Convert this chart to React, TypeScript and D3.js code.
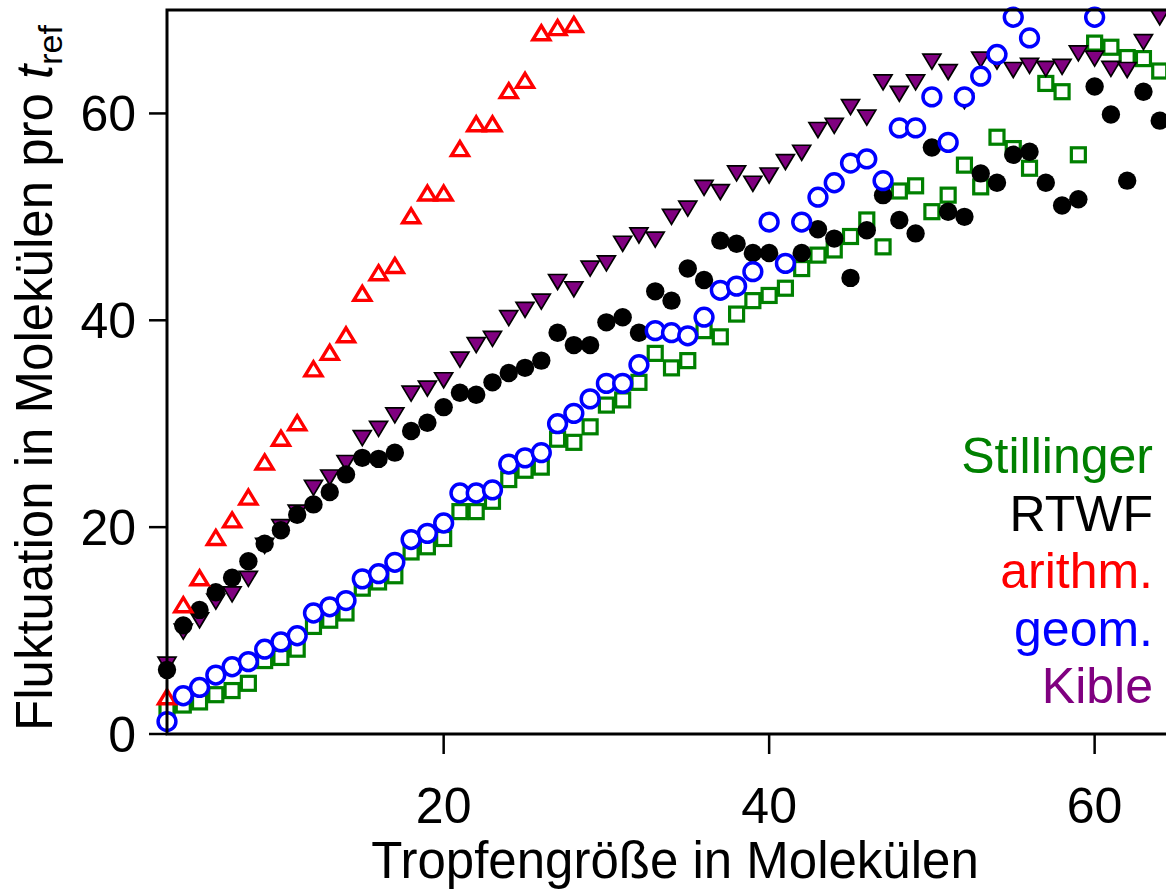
import React from "react";
import * as d3 from "d3";

const xStart = 3;
const stillinger = [2.3, 2.8, 3.1, 3.8, 4.2, 4.9, 7.1, 7.4, 8.2, 10.4, 11.0, 11.7, 14.1, 14.7, 15.3, 17.6, 18.1, 18.9, 21.5, 21.5, 22.5, 24.6, 25.5, 25.8, 28.5, 28.2, 29.7, 31.8, 32.3, 34.0, 36.8, 35.4, 36.1, 39.0, 38.4, 40.6, 41.9, 42.4, 43.1, 45.0, 46.3, 46.8, 48.1, 49.7, 47.1, 52.5, 53.0, 50.5, 52.1, 55.0, 52.9, 57.7, 56.6, 54.7, 62.9, 62.1, 56.0, 66.8, 66.4, 65.4, 65.3, 64.1];
const rtwf = [6.2, 10.5, 12.0, 13.7, 15.1, 16.7, 18.4, 19.7, 21.2, 22.2, 23.4, 25.1, 26.7, 26.6, 27.2, 29.3, 30.1, 31.6, 33.0, 32.8, 34.0, 34.9, 35.4, 36.1, 38.8, 37.6, 37.6, 39.8, 40.3, 38.8, 42.8, 41.9, 45.0, 43.9, 47.7, 47.4, 46.5, 46.5, 45.5, 46.5, 48.8, 47.9, 44.1, 48.7, 52.1, 49.7, 48.4, 56.7, 50.5, 50.0, 54.2, 53.3, 56.0, 56.3, 53.3, 51.1, 51.7, 62.6, 59.9, 53.5, 62.1, 59.3];
const arithm = [3.6, 12.5, 15.1, 19.0, 20.7, 22.9, 26.3, 28.6, 30.1, 35.3, 36.9, 38.6, 42.6, 44.6, 45.3, 50.1, 52.3, 52.3, 56.6, 59.0, 59.0, 62.2, 63.2, 67.8, 68.3, 68.6];
const geom: (number | null)[] = [1.2, 3.7, 4.5, 5.7, 6.5, 7.0, 8.2, 8.9, 9.5, 11.7, 12.3, 12.9, 15.0, 15.5, 16.6, 18.8, 19.4, 20.4, 23.3, 23.3, 23.6, 26.1, 26.7, 27.2, 30.0, 31.0, 32.4, 33.9, 33.9, 35.7, 39.0, 38.8, 38.5, 40.3, 42.9, 43.3, 44.7, 49.5, 45.5, 49.5, 51.9, 53.3, 55.2, 55.6, 53.5, 58.6, 58.6, 61.6, 57.2, 61.6, 63.6, 65.7, 69.3, 67.3, null, null, null, 69.3];
const kible = [6.7, 9.9, 11.0, 12.8, 13.5, 15.0, 18.2, 20.0, 21.4, 23.8, 24.8, 26.2, 28.6, 29.5, 30.8, 32.9, 33.4, 34.2, 36.2, 37.6, 38.2, 40.2, 41.0, 41.8, 43.7, 43.0, 45.0, 45.5, 47.4, 48.2, 47.8, 50.0, 50.8, 52.8, 52.4, 54.2, 53.2, 54.0, 55.3, 56.2, 58.4, 58.8, 60.6, 59.6, 63.0, 61.9, 63.0, 65.0, 64.0, 61.2, 65.2, 65.0, 64.2, 64.6, 64.3, 64.5, 65.8, 65.3, 64.3, 64.2, 66.9, 69.3];

const xTicks = [20, 40, 60];
const yTicks = [0, 20, 40, 60];
const legendNames = ["Stillinger", "RTWF", "arithm.", "geom.", "Kible"];
const legendColors = ["#008000", "#000000", "#ff0000", "#0000ff", "#800080"];

const W = 1166;
const H = 890;
const FONT = "'Liberation Sans', Arial, sans-serif";

function pts(vals: (number | null)[]) {
  return vals
    .map((v, i) => ({ x: xStart + i, v }))
    .filter((d) => d.v !== null) as { x: number; v: number }[];
}

export default function App() {
  const x = d3.scaleLinear().domain([3, 65]).range([167, 1176]);
  const y = d3.scaleLinear().domain([0, 70]).range([734, 10]);
  const [x0, x1] = x.range();
  const [yb, yt] = y.range();

  const up = (cx: number, cy: number, w: number, h: number) =>
    `M${cx},${cy - h / 2}L${cx + w / 2},${cy + h / 2}L${cx - w / 2},${cy + h / 2}Z`;
  const down = (cx: number, cy: number, w: number, h: number) =>
    `M${cx - w / 2},${cy - h / 2}L${cx + w / 2},${cy - h / 2}L${cx},${cy + h / 2}Z`;

  return (
    <svg
      width={W}
      height={H}
      style={{ position: "absolute", left: 0, top: 0, background: "#fff" }}
      fontFamily={FONT}
    >
      <rect x={0} y={0} width={W} height={H} fill="#fff" />
      {/* Stillinger squares */}
      <g fill="#fff" stroke="#008000" strokeWidth={3.2}>
        {pts(stillinger).map((d, i) => (
          <rect key={i} x={x(d.x) - 7} y={y(d.v) - 7} width={14} height={14} />
        ))}
      </g>
      {/* Kible down triangles */}
      <g fill="#800080" stroke="#000" strokeWidth={1.7} strokeLinejoin="miter">
        {pts(kible).map((d, i) => (
          <path key={i} d={down(x(d.x), y(d.v), 18, 15)} />
        ))}
      </g>
      {/* RTWF filled circles */}
      <g fill="#000">
        {pts(rtwf).map((d, i) => (
          <circle key={i} cx={x(d.x)} cy={y(d.v)} r={9.2} />
        ))}
      </g>
      {/* arithm up triangles */}
      <g fill="#fff" stroke="#ff0000" strokeWidth={3.4} strokeLinejoin="miter">
        {pts(arithm).map((d, i) => (
          <path key={i} d={up(x(d.x), y(d.v), 17, 14)} />
        ))}
      </g>
      {/* geom open circles */}
      <g fill="#fff" stroke="#0000ff" strokeWidth={3.5}>
        {pts(geom).map((d, i) => (
          <circle key={i} cx={x(d.x)} cy={y(d.v)} r={8.9} />
        ))}
      </g>

      {/* frame */}
      <rect x={x0} y={yt} width={x1 - x0} height={yb - yt} fill="none" stroke="#000" strokeWidth={3} />
      {/* y ticks */}
      <g>
        {yTicks.map((t) => (
          <g key={t}>
            <line x1={x0 - 18} x2={x0} y1={y(t)} y2={y(t)} stroke="#000" strokeWidth={2.5} />
            <text x={136} y={y(t)} dy="0.36em" textAnchor="end" fontSize={50}>
              {t}
            </text>
          </g>
        ))}
      </g>
      {/* x ticks */}
      <g>
        {xTicks.map((t) => (
          <g key={t}>
            <line x1={x(t)} x2={x(t)} y1={yb} y2={yb + 20} stroke="#000" strokeWidth={2.5} />
            <text x={x(t)} y={823} textAnchor="middle" fontSize={50}>
              {t}
            </text>
          </g>
        ))}
      </g>
      {/* axis titles */}
      <text x={675} y={878} textAnchor="middle" fontSize={51}>
        Tropfengröße in Molekülen
      </text>
      <text transform="translate(52,378) rotate(-90)" textAnchor="middle" fontSize={51}>
        Fluktuation in Molekülen pro{" "}
        <tspan fontStyle="italic">t</tspan>
        <tspan fontSize={34} dy={10}>ref</tspan>
      </text>

      {/* legend */}
      {legendNames.map((n, i) => (
        <text key={n} x={1153} y={473 + i * 57.5} textAnchor="end" fontSize={50} fill={legendColors[i]}>
          {n}
        </text>
      ))}
    </svg>
  );
}
